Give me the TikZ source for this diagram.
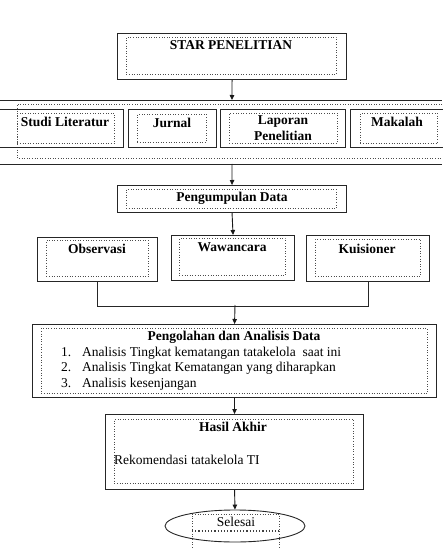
\documentclass[tikz,border=0pt]{standalone}
\usepackage{fontspec}
\setmainfont{Liberation Serif}
\usetikzlibrary{arrows.meta,shapes.geometric}

\tikzset{
  outerbox/.style={draw=black!85, line width=1.1pt, inner sep=0pt, anchor=north west},
  innerbox/.style={draw=black!70, dotted, line width=0.6pt, inner sep=0pt, anchor=north west},
  titletext/.style={font=\bfseries\fontsize{13.5}{15}\selectfont, inner sep=0pt},
  plaintext/.style={font=\fontsize{13.5}{15}\selectfont, inner sep=0pt},
  arr/.style={-{Triangle[length=5pt,width=4.5pt]}, line width=0.9pt, black!90},
  link/.style={line width=0.9pt, black!85},
}

\begin{document}
\begin{tikzpicture}[x=1pt,y=-1pt]
        \useasboundingbox (0,0) rectangle (442,548);

        % start box
        \node[outerbox, minimum width=229pt, minimum height=46pt] (start) at (117,33) {};
        \node[innerbox, minimum width=210pt, minimum height=37pt] (startin) at (126,37) {};
        \node[titletext] (starttxt) at (231,45) {STAR PENELITIAN};

        % band with the four sources
        \coordinate (bandtop) at (232,100);
        \coordinate (bandbot) at (232,164);
        \draw[link] (0,100) -- (442,100);
        \draw[link] (0,164) -- (442,164);
        \draw[black!70, dotted, line width=0.6pt] (442,104) -- (17,104) -- (17,158) -- (442,158);

        \node[outerbox, minimum width=128pt, minimum height=38pt] (lit) at (-5,109) {};
        \node[innerbox, minimum width=97pt, minimum height=30pt] (litin) at (17,113) {};
        \node[titletext] (littxt) at (65,122) {Studi Literatur};

        \node[outerbox, minimum width=88pt, minimum height=38pt] (jurnal) at (128,109) {};
        \node[innerbox, minimum width=69pt, minimum height=28pt] (jurnalin) at (137,114) {};
        \node[titletext] (jurnaltxt) at (172,123) {Jurnal};

        \node[outerbox, minimum width=125pt, minimum height=38pt] (lap) at (220,109) {};
        \node[innerbox, minimum width=108pt, minimum height=30pt] (lapin) at (229,113) {};
        \node[titletext] (laptxt) at (283,122) {Laporan};
        \node[titletext] (laptxtb) at (283,136) {Penelitian};

        \node[outerbox, minimum width=100pt, minimum height=38pt] (makalah) at (350,109) {};
        \node[innerbox, minimum width=77pt, minimum height=30pt] (makalahin) at (360,113) {};
        \node[titletext] (makalahtxt) at (397,122) {Makalah};

        \draw[arr] (start.south) -- (bandtop);

        % pengumpulan data
        \node[outerbox, minimum width=229pt, minimum height=27pt] (kumpul) at (117,185) {};
        \node[innerbox, minimum width=210pt, minimum height=19pt] (kumpulin) at (126,189) {};
        \node[titletext] (kumpultxt) at (232,198) {Pengumpulan Data};
        \draw[arr] (bandbot) -- (kumpul.north);

        % three methods
        \node[outerbox, minimum width=120pt, minimum height=44pt] (obs) at (37,237) {};
        \node[innerbox, minimum width=102pt, minimum height=36pt] (obsin) at (46,240) {};
        \node[titletext] (obstxt) at (97,249) {Observasi};

        \node[outerbox, minimum width=123pt, minimum height=45pt] (waw) at (171,235) {};
        \node[innerbox, minimum width=106pt, minimum height=37pt] (wawin) at (179,238) {};
        \node[titletext] (wawtxt) at (232,247) {Wawancara};

        \node[outerbox, minimum width=123pt, minimum height=46pt] (kuis) at (306,235) {};
        \node[innerbox, minimum width=105pt, minimum height=37pt] (kuisin) at (315,239) {};
        \node[titletext] (kuistxt) at (367,249) {Kuisioner};

        \draw[arr] (kumpul.south) -- (waw.north);

        % join line
        \coordinate (join) at (235,305);
        \draw[link] (obs.south) -- ++(0,24) -| (kuis.south);

        % pengolahan dan analisis
        \node[outerbox, minimum width=404pt, minimum height=73pt] (olah) at (32,324) {};
        \node[innerbox, minimum width=386pt, minimum height=65pt] (olahin) at (41,328) {};
        \node[titletext] (olahtxt) at (234,337) {Pengolahan dan Analisis Data};
        \node[plaintext, anchor=base west] (item1) at (61,356) {\makebox[21pt][l]{1.}Analisis Tingkat kematangan tatakelola\ \ saat ini};
        \node[plaintext, anchor=base west] (item2) at (61,371.5) {\makebox[21pt][l]{2.}Analisis Tingkat Kematangan yang diharapkan};
        \node[plaintext, anchor=base west] (item3) at (61,387) {\makebox[21pt][l]{3.}Analisis kesenjangan};
        \draw[arr] (join) -- (olah.north);

        % hasil akhir
        \node[outerbox, minimum width=258pt, minimum height=75pt] (hasil) at (105,414) {};
        \node[innerbox, minimum width=239pt, minimum height=64pt] (hasilin) at (114,419) {};
        \node[titletext] (hasiltxt) at (233,427) {Hasil Akhir};
        \node[plaintext, anchor=west] (rekom) at (114,460) {Rekomendasi tatakelola TI};
        \draw[arr] (olah.south) -- (hasil.north);

        % selesai
        \node[ellipse, draw=black!85, line width=0.9pt, minimum width=140pt, minimum height=32pt, inner sep=0pt] (selesai) at (235,526) {};
        \draw[black!70, dotted, line width=0.6pt] (192,550) -- (192,514) -- (279,514) -- (279,550);
        \draw[black!75, dotted, line width=1.2pt] (192,531) -- (279,531);
        \node[plaintext] (selesaitxt) at (236,522) {Selesai};
        \draw[arr] (hasil.south) -- (selesai.north);
    \end{tikzpicture}
\end{document}
